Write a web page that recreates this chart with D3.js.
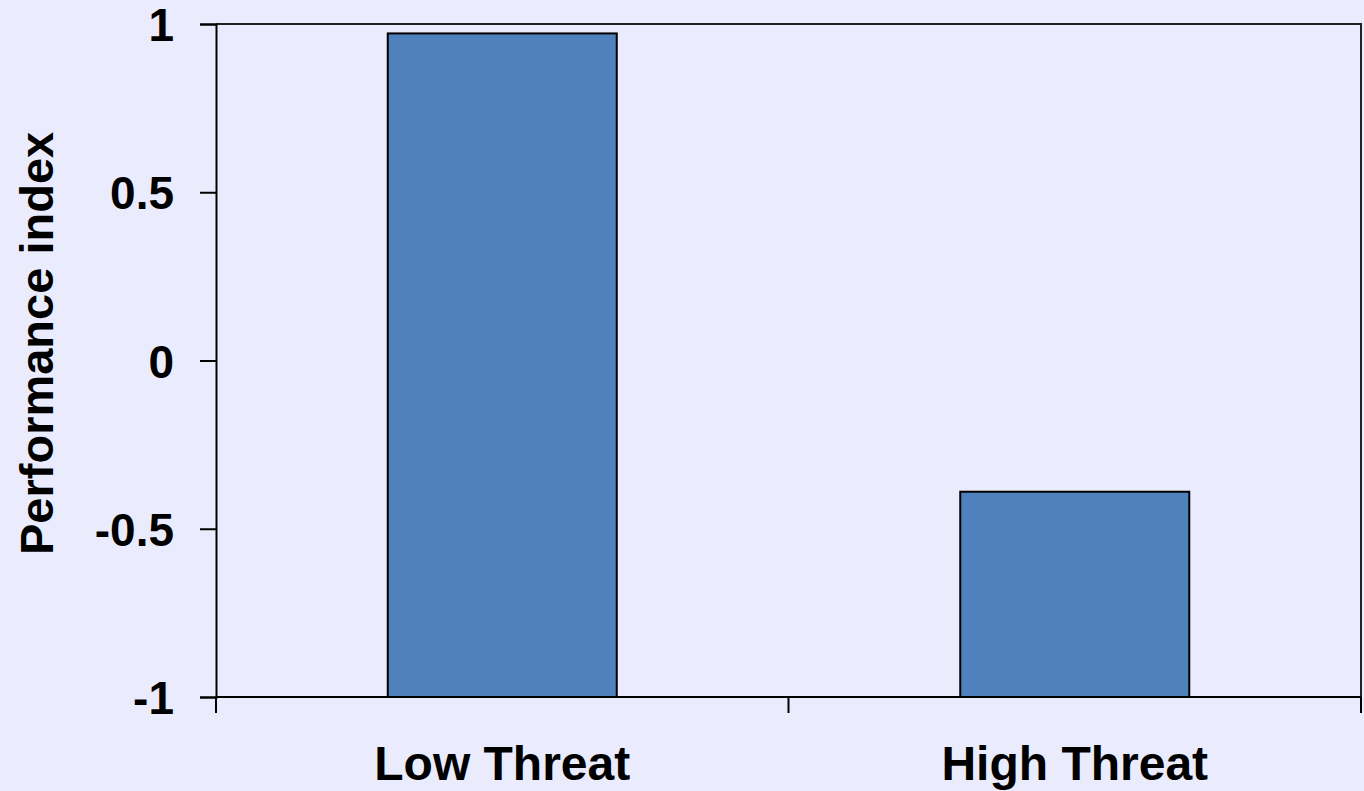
<!DOCTYPE html>
<html>
<head>
	<meta charset="UTF-8">
	<title>Performance index by threat</title>
	<script src="https://cdnjs.cloudflare.com/ajax/libs/d3/7.8.5/d3.min.js"></script>
	<style>
		body { margin: 0; background: #eaecfe; }
		svg text { font-family: "Liberation Sans", Arial, sans-serif; font-weight: bold; fill: #000; }
	</style>
</head>
<body>
	<script>
		// data
		var categories = ["Low Threat", "High Threat"];
		var values = [0.972, -0.39];
		var yTicks = [1, 0.5, 0, -0.5, -1];
		var yLabel = "Performance index";

		// set the dimensions of the canvas
		var margin = {top: 24, right: 3, bottom: 94, left: 216},
		    width = 1364 - margin.left - margin.right,
		    height = 791 - margin.top - margin.bottom;

		// set the ranges
		var x = d3.scaleBand().domain(categories).range([0, width])
		    .paddingInner(0.6).paddingOuter(0.3);
		var xEdges = d3.scaleBand().domain(categories).range([0, width]).padding(0);
		var y = d3.scaleLinear().domain([-1, 1]).range([height, 0]);

		var svg = d3.select("body").append("svg")
		    .attr("width", 1364)
		    .attr("height", 791)
		    .append("g")
		    .attr("transform", "translate(" + margin.left + "," + margin.top + ")");

		// frame (top + right)
		svg.append("path")
		    .attr("d", "M0,0H" + width + "V" + height)
		    .attr("fill", "none")
		    .attr("stroke", "#222")
		    .attr("stroke-width", 2);

		// bars grow from the bottom of the axis (-1)
		svg.selectAll(".bar")
		    .data(values)
		    .enter().append("rect")
		    .attr("class", "bar")
		    .attr("x", function(d, i) { return x(categories[i]); })
		    .attr("width", x.bandwidth())
		    .attr("y", function(d) { return y(d); })
		    .attr("height", function(d) { return y(-1) - y(d); })
		    .attr("fill", "#4f81bd")
		    .attr("stroke", "#000")
		    .attr("stroke-width", 2);

		// y axis
		var yAxis = svg.append("g")
		    .call(d3.axisLeft(y).tickValues(yTicks).tickSize(16).tickPadding(26)
		        .tickFormat(function(d) { return d; }));
		yAxis.select(".domain").attr("stroke", "#000").attr("stroke-width", 2);
		yAxis.selectAll(".tick line").attr("stroke", "#000").attr("stroke-width", 2);
		yAxis.selectAll(".tick text").style("font-size", "46px").attr("dy", "0.36em");

		// x axis: ticks sit on category boundaries
		svg.append("line")
		    .attr("x1", 0).attr("x2", width)
		    .attr("y1", height).attr("y2", height)
		    .attr("stroke", "#000").attr("stroke-width", 2);

		var edges = categories.map(function(c) { return xEdges(c); }).concat([width]);
		svg.selectAll(".xtick")
		    .data(edges)
		    .enter().append("line")
		    .attr("class", "xtick")
		    .attr("x1", function(d) { return d; }).attr("x2", function(d) { return d; })
		    .attr("y1", height).attr("y2", height + 16)
		    .attr("stroke", "#000").attr("stroke-width", 2);

		svg.selectAll(".xlabel")
		    .data(categories)
		    .enter().append("text")
		    .attr("class", "xlabel")
		    .attr("x", function(d) { return x(d) + x.bandwidth() / 2; })
		    .attr("y", height + 83)
		    .attr("text-anchor", "middle")
		    .style("font-size", "48px")
		    .text(function(d) { return d; });

		// y axis title
		svg.append("text")
		    .attr("transform", "translate(" + (53 - margin.left) + "," + (555 - margin.top) + ") rotate(-90)")
		    .attr("text-anchor", "start")
		    .style("font-size", "47px")
		    .text(yLabel);
	</script>
</body>
</html>
